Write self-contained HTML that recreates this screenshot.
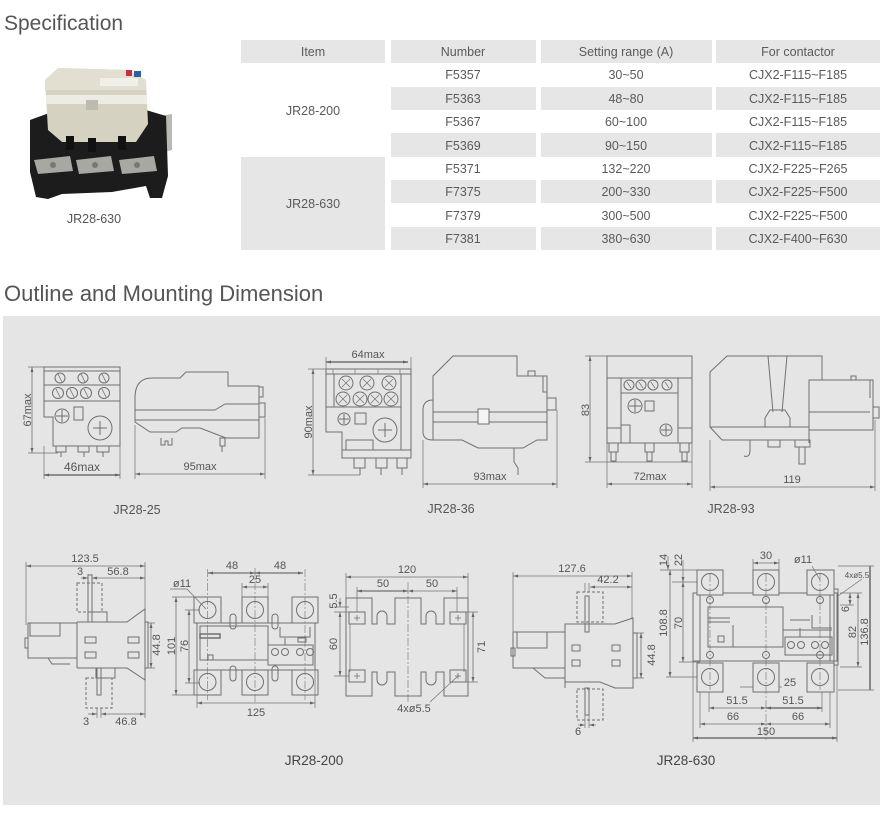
<!DOCTYPE html>
<html><head><meta charset="utf-8">
<style>
html,body{margin:0;padding:0;background:#fff;}
body{width:880px;height:838px;overflow:hidden;position:relative;}
svg{position:absolute;left:0;top:0;}
</style></head>
<body>
<svg width="880" height="838" viewBox="0 0 880 838" xmlns="http://www.w3.org/2000/svg">
<defs>
<marker id="ar" viewBox="0 0 10 10" refX="10" refY="5" markerUnits="userSpaceOnUse" markerWidth="5" markerHeight="5" orient="auto-start-reverse"><path d="M0,2 L10,5 L0,8 z" fill="#666"/></marker>
</defs>

<!-- Titles -->
<text x="4" y="30" font-family="Liberation Sans, sans-serif" font-size="21" fill="#555">Specification</text>
<text x="4" y="301" font-family="Liberation Sans, sans-serif" font-size="22" fill="#555">Outline and Mounting Dimension</text>

<!-- Photo -->
<g>
 <polygon points="146,118 172,114 172,150 148,156" fill="#b9b9b2"/>
 <path d="M30,120 L52,112 L62,126 L138,126 L146,110 L166,116 L168,176 L162,198 L150,198 L146,186 L112,192 L62,194 L48,199 L36,197 L30,172 Z" fill="#1c1c1c"/>
 <path d="M45,80 L58,68 L128,70 L146,80 L148,124 L136,142 L62,142 L48,130 Z" fill="#d6d2c2"/>
 <path d="M45,80 L58,68 L128,70 L146,80 L146,90 L45,90 Z" fill="#e2dfd2"/>
 <rect x="46" y="95" width="101" height="9" fill="#ecebe4"/>
 <rect x="100" y="78" width="38" height="8" fill="#f0efe8"/>
 <rect x="126" y="70" width="6" height="6" fill="#c83040"/>
 <rect x="134" y="71" width="7" height="6" fill="#2f5fa0"/>
 <rect x="86" y="100" width="12" height="10" fill="#bdbab0"/>
 <polygon points="34,160 70,156 73,171 38,174" fill="#a8a8a2"/>
 <polygon points="76,160 111,156 114,171 79,174" fill="#a8a8a2"/>
 <polygon points="119,160 154,156 157,171 122,174" fill="#a8a8a2"/>
 <circle cx="53" cy="165" r="3" fill="#777"/><circle cx="95" cy="165" r="3" fill="#777"/><circle cx="137" cy="165" r="3" fill="#777"/>
 <rect x="66" y="136" width="8" height="14" fill="#111"/><rect x="88" y="138" width="8" height="14" fill="#111"/><rect x="118" y="136" width="8" height="14" fill="#111"/>
</g>
<text x="94" y="223" text-anchor="middle" font-family="Liberation Sans, sans-serif" font-size="12.5" fill="#555">JR28-630</text>

<!-- Table -->
<g fill="#e6e6e6">
 <rect x="241" y="40" width="144" height="23"/>
 <rect x="391" y="40" width="145" height="23"/>
 <rect x="541" y="40" width="171" height="23"/>
 <rect x="716" y="40" width="164" height="23"/>
 <rect x="241" y="157" width="144" height="93"/>
 <rect x="391" y="87" width="145" height="23"/><rect x="541" y="87" width="171" height="23"/><rect x="716" y="87" width="164" height="23"/>
 <rect x="391" y="133" width="145" height="24"/><rect x="541" y="133" width="171" height="24"/><rect x="716" y="133" width="164" height="24"/>
 <rect x="391" y="180" width="145" height="23"/><rect x="541" y="180" width="171" height="23"/><rect x="716" y="180" width="164" height="23"/>
 <rect x="391" y="227" width="145" height="23"/><rect x="541" y="227" width="171" height="23"/><rect x="716" y="227" width="164" height="23"/>
</g>
<g font-family="Liberation Sans, sans-serif" font-size="12.5" fill="#5a5a5a" text-anchor="middle">
 <text x="313" y="56">Item</text><text x="463" y="56">Number</text><text x="626" y="56">Setting range (A)</text><text x="798" y="56">For contactor</text>
 <text x="313" y="115">JR28-200</text><text x="313" y="208">JR28-630</text>
 <text x="463" y="79">F5357</text><text x="626" y="79">30~50</text><text x="798" y="79">CJX2-F115~F185</text>
 <text x="463" y="103">F5363</text><text x="626" y="103">48~80</text><text x="798" y="103">CJX2-F115~F185</text>
 <text x="463" y="126">F5367</text><text x="626" y="126">60~100</text><text x="798" y="126">CJX2-F115~F185</text>
 <text x="463" y="150">F5369</text><text x="626" y="150">90~150</text><text x="798" y="150">CJX2-F115~F185</text>
 <text x="463" y="173">F5371</text><text x="626" y="173">132~220</text><text x="798" y="173">CJX2-F225~F265</text>
 <text x="463" y="196">F7375</text><text x="626" y="196">200~330</text><text x="798" y="196">CJX2-F225~F500</text>
 <text x="463" y="220">F7379</text><text x="626" y="220">300~500</text><text x="798" y="220">CJX2-F225~F500</text>
 <text x="463" y="243">F7381</text><text x="626" y="243">380~630</text><text x="798" y="243">CJX2-F400~F630</text>
</g>

<!-- Gray drawing area -->
<rect x="3" y="316" width="877" height="489" fill="#e5e5e5"/>

<g stroke="#707070" stroke-width="1" fill="none">
<!-- ===== JR28-25 front ===== -->
<path d="M44,367 H120 V446 H53 V417 H44 Z"/>
<line x1="44" y1="371" x2="120" y2="371"/>
<line x1="44" y1="385" x2="120" y2="385"/>
<line x1="44" y1="401" x2="120" y2="401"/>
<circle cx="60" cy="378" r="5"/><circle cx="83" cy="378" r="5"/><circle cx="104" cy="378" r="5"/>
<circle cx="58" cy="393" r="5.5"/><circle cx="72" cy="393" r="5.5"/><circle cx="86" cy="393" r="5.5"/><circle cx="104" cy="393" r="5.5"/>
<path d="M58,374 L62,382 M81,374 L85,382 M102,374 L106,382 M56,389 L60,397 M70,389 L74,397 M84,389 L88,397 M102,389 L106,397" stroke-width="0.8"/>
<circle cx="62" cy="416" r="7"/><path d="M56,416 H68 M62,410 V422"/>
<rect x="74" y="407" width="9" height="13"/>
<circle cx="100" cy="428" r="12"/><path d="M93,428 H107 M100,421 V435"/>
<rect x="56" y="446" width="10" height="6"/><rect x="78" y="446" width="11" height="6"/><rect x="97" y="446" width="12" height="6"/>
<path d="M61,452 V457 M84,452 V457 M103,452 V457"/>
<!-- dims -->
<path d="M28,367 H44 M28,453 H58 M44,446 V479 M120,446 V479" stroke-width="0.7"/>
<line x1="32" y1="367" x2="32" y2="453" stroke-width="0.8" marker-start="url(#ar)" marker-end="url(#ar)"/>
<line x1="44" y1="475" x2="120" y2="475" stroke-width="1.4" marker-start="url(#ar)" marker-end="url(#ar)"/>

<!-- ===== JR28-25 side ===== -->
<path d="M135,398 Q135,378 152,378 H180 L186,372 H228 V386 H259 V438 H226 L200,428 H182 L176,432 H150 L135,422 Z"/>
<path d="M135,410 H215 L225,404 H259 M135,420 H259"/>
<rect x="259" y="403" width="6" height="14"/><rect x="259" y="387" width="4" height="10"/>
<path d="M161,438 V445 H165 V441 H168 V445 H172 V438"/>
<rect x="220" y="438" width="5" height="8"/><path d="M222,446 V452"/>
<path d="M135,425 V479 M265,418 V479" stroke-width="0.7"/>
<line x1="135" y1="474" x2="265" y2="474" stroke-width="0.8" marker-start="url(#ar)" marker-end="url(#ar)"/>

<!-- ===== JR28-36 front ===== -->
<path d="M326,369 H411 V458 H342 V432 H326 Z"/>
<line x1="326" y1="374" x2="411" y2="374"/>
<path d="M333,369 V374 M355,369 V374 M378,369 V374 M400,369 V374" stroke-width="0.7"/>
<path d="M334,374 V407 M401,374 V450 M326,407 H401"/>
<circle cx="346" cy="383" r="7"/><circle cx="367" cy="383" r="7"/><circle cx="389" cy="383" r="7"/>
<circle cx="343" cy="399" r="7"/><circle cx="360" cy="399" r="7"/><circle cx="375" cy="399" r="7"/><circle cx="391" cy="399" r="7"/>
<path d="M342,379 L350,387 M350,379 L342,387 M363,379 L371,387 M371,379 L363,387 M385,379 L393,387 M393,379 L385,387 M339,395 L347,403 M347,395 L339,403 M356,395 L364,403 M364,395 L356,403 M371,395 L379,403 M379,395 L371,403 M387,395 L395,403 M395,395 L387,403" stroke-width="0.7"/>
<circle cx="344" cy="419" r="6"/><path d="M339,419 H349 M344,414 V424"/>
<rect x="355" y="413" width="11" height="11"/>
<circle cx="385" cy="430" r="12"/><path d="M378,430 H392 M385,423 V437"/>
<rect x="346" y="440" width="27" height="10"/>
<line x1="342" y1="450" x2="411" y2="450"/>
<rect x="354" y="458" width="11" height="10"/><rect x="376" y="458" width="11" height="10"/><rect x="397" y="458" width="10" height="10"/>
<path d="M360,468 V475 M381,468 V475 M402,468 V475"/>
<path d="M326,357 V369 M411,357 V369 M308,369 H326 M308,475 H360" stroke-width="0.7"/>
<line x1="326" y1="362" x2="408" y2="362" stroke-width="1.4" marker-start="url(#ar)" marker-end="url(#ar)"/>
<line x1="313" y1="369" x2="313" y2="475" stroke-width="0.8" marker-start="url(#ar)" marker-end="url(#ar)"/>

<!-- ===== JR28-36 side ===== -->
<path d="M433,376 L453,356 H517 V376 H547 V440 H537 L523,448 H478 L462,440 H433 Q423,440 423,432 V410 Q423,400 433,400 Z"/>
<path d="M433,412 H547 M433,422 H547 M433,400 V440"/>
<rect x="478" y="409" width="11" height="15" fill="#f4f4f4"/>
<rect x="528" y="371" width="7" height="5"/>
<rect x="547" y="398" width="9" height="12"/>
<path d="M543,376 V392 H547"/>
<path d="M514,448 V462 L518,468 V475"/>
<path d="M423,440 V488 M557,410 V488" stroke-width="0.7"/>
<line x1="423" y1="484" x2="557" y2="484" stroke-width="0.8" marker-start="url(#ar)" marker-end="url(#ar)"/>

<!-- ===== JR28-93 front ===== -->
<rect x="607" y="356" width="85" height="87"/>
<line x1="607" y1="378" x2="692" y2="378"/>
<path d="M621,378 V443 M678,378 V443 M607,428 H621 M678,428 H692 M621,393 H678"/>
<rect x="621" y="425" width="9" height="18"/>
<circle cx="629" cy="385" r="5"/><circle cx="641" cy="385" r="5"/><circle cx="653" cy="385" r="5"/><circle cx="667" cy="385" r="5"/>
<path d="M627,382 L631,388 M639,382 L643,388 M651,382 L655,388 M665,382 L669,388" stroke-width="0.7"/>
<circle cx="635" cy="406" r="7"/><path d="M629,406 H641 M635,400 V412"/>
<rect x="645" y="401" width="9" height="10"/>
<circle cx="666" cy="430" r="6"/><path d="M661,430 H671 M666,425 V435"/>
<rect x="609" y="443" width="9" height="9"/><rect x="611" y="452" width="5" height="9"/>
<rect x="645" y="443" width="9" height="9"/><rect x="647" y="452" width="5" height="9"/>
<rect x="680" y="443" width="9" height="9"/><rect x="682" y="452" width="5" height="9"/>
<path d="M585,356 H607 M585,462 H692 M607,443 V488 M692,443 V488" stroke-width="0.7"/>
<line x1="590" y1="356" x2="590" y2="462" stroke-width="0.8" marker-start="url(#ar)" marker-end="url(#ar)"/>
<line x1="607" y1="484" x2="692" y2="484" stroke-width="0.8" marker-start="url(#ar)" marker-end="url(#ar)"/>

<!-- ===== JR28-93 side ===== -->
<path d="M710,372 L727,356 H822 V380 M710,372 V427 L722,440 H809"/>
<line x1="710" y1="427" x2="809" y2="427"/>
<rect x="809" y="380" width="64" height="50"/>
<path d="M809,412 H870 M809,430 V443 M870,380 V398"/>
<path d="M768,356 L773,412 M787,356 L782,412 M765,427 V418 L770,410 H785 L790,418 V427"/>
<path d="M750,440 V450 Q750,458 744,456"/>
<rect x="768" y="440" width="12" height="7"/>
<rect x="795" y="440" width="15" height="7"/><rect x="799" y="447" width="6" height="17"/>
<rect x="851" y="376" width="5" height="4"/>
<rect x="873" y="407" width="6" height="11"/>
<path d="M710,440 V491 M875,420 V491" stroke-width="0.7"/>
<line x1="710" y1="487" x2="875" y2="487" stroke-width="0.8" marker-start="url(#ar)" marker-end="url(#ar)"/>

<!-- ===== JR28-200 side ===== -->
<path d="M26,562 V625 M145,562 V609 M88,574 V583 M92,574 V583" stroke-width="0.7"/>
<line x1="26" y1="566" x2="145" y2="566" stroke-width="0.8" marker-start="url(#ar)" marker-end="url(#ar)"/>
<line x1="81" y1="578" x2="88" y2="578" stroke-width="0.8" marker-end="url(#ar)"/>
<line x1="92" y1="578" x2="145" y2="578" stroke-width="0.8" marker-start="url(#ar)" marker-end="url(#ar)"/>
<rect x="77" y="583" width="25" height="29" stroke-dasharray="3,2"/>
<rect x="88" y="575" width="4" height="47"/>
<rect x="88" y="612" width="19" height="10"/>
<path d="M28,623 H77 V658 H28 Z"/>
<path d="M30,623 V636 H60 V623"/>
<rect x="25" y="638" width="3" height="10"/>
<path d="M77,622 H127 L145,609 V680 L127,668 H77 M77,622 V668 M77,658 L48,658 L52,664 H70"/>
<path d="M145,622 H148 V668 H145"/>
<rect x="85" y="637" width="11" height="6"/><rect x="128" y="637" width="11" height="6"/>
<rect x="85" y="652" width="11" height="6"/><rect x="128" y="652" width="11" height="6"/>
<rect x="96" y="668" width="19" height="10"/>
<rect x="86" y="678" width="26" height="30" stroke-dasharray="3,2"/>
<rect x="97" y="668" width="4" height="27"/>
<path d="M148,623 H155 M148,668 H155 M145,680 V718 M97,708 V718 M101,708 V718" stroke-width="0.7"/>
<line x1="151" y1="623" x2="151" y2="668" stroke-width="0.8" marker-start="url(#ar)" marker-end="url(#ar)"/>
<line x1="88" y1="714" x2="97" y2="714" stroke-width="0.8" marker-end="url(#ar)"/>
<line x1="101" y1="714" x2="145" y2="714" stroke-width="0.8" marker-start="url(#ar)" marker-end="url(#ar)"/>

<!-- ===== JR28-200 front ===== -->
<rect x="197" y="623" width="118" height="47"/>
<rect x="200" y="626" width="68" height="34"/>
<rect x="200" y="634" width="20" height="4" stroke-width="1.5"/>
<rect x="208" y="655" width="5" height="5"/>
<rect x="268" y="645" width="45" height="20"/>
<circle cx="275" cy="652" r="3.5"/><circle cx="285" cy="652" r="3.5"/><circle cx="300" cy="652" r="3.5"/><circle cx="310" cy="652" r="3.5"/>
<path d="M280,627 V637 H310 V627 M285,645 V638 M298,638 H306 V642 H298 Z"/>
<rect x="194" y="597" width="27" height="26" fill="#e5e5e5"/><rect x="242" y="597" width="26" height="26" fill="#e5e5e5"/><rect x="292" y="597" width="26" height="26" fill="#e5e5e5"/>
<rect x="194" y="670" width="27" height="25" fill="#e5e5e5"/><rect x="242" y="670" width="26" height="25" fill="#e5e5e5"/><rect x="292" y="670" width="26" height="25" fill="#e5e5e5"/>
<circle cx="207.5" cy="610" r="8.5"/><circle cx="255" cy="610" r="8.5"/><circle cx="305" cy="610" r="8.5"/>
<circle cx="207.5" cy="682" r="8.5"/><circle cx="255" cy="682" r="8.5"/><circle cx="305" cy="682" r="8.5"/>
<rect x="230" y="614" width="6" height="15" rx="3"/><rect x="272" y="614" width="6" height="15" rx="3"/>
<rect x="230" y="666" width="6" height="15" rx="3"/><rect x="272" y="666" width="6" height="15" rx="3"/>
<path d="M255,568 V702 M207.5,569 V700 M305,569 V700" stroke-width="0.6" stroke-dasharray="8,2,2,2"/>
<path d="M242,583 V597 M268,583 V597 M172,597 H194 M172,695 H194 M185,610 H200 M185,683 H200 M197,670 V708 M315,670 V708" stroke-width="0.7"/>
<line x1="208" y1="573" x2="255" y2="573" stroke-width="1.2" marker-start="url(#ar)" marker-end="url(#ar)"/>
<line x1="255" y1="573" x2="303" y2="573" stroke-width="1.2" marker-start="url(#ar)" marker-end="url(#ar)"/>
<line x1="242" y1="587" x2="268" y2="587" stroke-width="0.8" marker-start="url(#ar)" marker-end="url(#ar)"/>
<line x1="176" y1="597" x2="176" y2="695" stroke-width="0.8" marker-start="url(#ar)" marker-end="url(#ar)"/>
<line x1="189" y1="610" x2="189" y2="683" stroke-width="0.8" marker-start="url(#ar)" marker-end="url(#ar)"/>
<line x1="197" y1="703" x2="315" y2="703" stroke-width="0.8" marker-start="url(#ar)" marker-end="url(#ar)"/>
<path d="M170,589 H187 L206,609" stroke-width="0.7"/>

<!-- ===== Mounting plate ===== -->
<path d="M346,598 H372 V624 H377 V616 A5,5 0 0 1 387,616 V624 H395 V598 H421 V624 H426 V616 A5,5 0 0 1 436,616 V624 H444 V598 H468 V696 H444 V672 H436 V680 A5,5 0 0 1 426,680 V672 H421 V696 H395 V672 H387 V680 A5,5 0 0 1 377,680 V672 H372 V696 H346 Z"/>
<path d="M350,624 V672 M464,624 V672" stroke-width="0.7"/>
<rect x="349" y="612" width="16" height="12"/><rect x="450" y="612" width="16" height="12"/>
<rect x="349" y="670" width="16" height="12"/><rect x="450" y="670" width="16" height="12"/>
<path d="M354,618 H360 M357,615 V621 M455,618 H461 M458,615 V621 M354,676 H360 M357,673 V679 M455,676 H461 M458,673 V679" stroke-width="0.8"/>
<path d="M408,582 V702" stroke-width="0.6" stroke-dasharray="8,2,2,2"/>
<path d="M346,573 V598 M468,573 V598 M357,587 V612 M457,587 V612 M334,607 H349 M334,612 H349 M334,676 H349 M466,612 H478 M466,682 H478" stroke-width="0.7"/>
<line x1="346" y1="577" x2="468" y2="577" stroke-width="0.8" marker-start="url(#ar)" marker-end="url(#ar)"/>
<line x1="357" y1="591" x2="408" y2="591" stroke-width="1.2" marker-start="url(#ar)" marker-end="url(#ar)"/>
<line x1="408" y1="591" x2="457" y2="591" stroke-width="0.8" marker-start="url(#ar)" marker-end="url(#ar)"/>
<line x1="340" y1="598" x2="340" y2="607" stroke-width="0.7" marker-end="url(#ar)"/>
<line x1="340" y1="612" x2="340" y2="676" stroke-width="0.8" marker-start="url(#ar)" marker-end="url(#ar)"/>
<line x1="473" y1="612" x2="473" y2="682" stroke-width="0.8" marker-start="url(#ar)" marker-end="url(#ar)"/>
<path d="M430,702 L458,676" stroke-width="0.7"/>

<!-- ===== JR28-630 side ===== -->
<path d="M513,572 V640 M632,572 V618 M585,583 V592 M589,583 V592" stroke-width="0.7"/>
<line x1="513" y1="576" x2="632" y2="576" stroke-width="0.8" marker-start="url(#ar)" marker-end="url(#ar)"/>
<line x1="590" y1="587" x2="632" y2="587" stroke-width="0.8" marker-start="url(#ar)" marker-end="url(#ar)"/>
<rect x="577" y="592" width="26" height="30" stroke-dasharray="3,2"/>
<rect x="585" y="596" width="4" height="36"/>
<path d="M513,632 H565 V668 H533 L545,678 H565 M513,632 V668 H533"/>
<path d="M517,632 V648 H547 V632"/>
<rect x="511" y="648" width="4" height="8"/>
<path d="M565,624 H615 L633,618 V688 L615,688 L600,682 H565 Z M565,624 V688"/>
<path d="M633,633 H637 V678 H633"/>
<rect x="572" y="645" width="8" height="6"/><rect x="612" y="645" width="8" height="6"/>
<rect x="572" y="660" width="8" height="6"/><rect x="612" y="660" width="8" height="6"/>
<rect x="577" y="689" width="26" height="31" stroke-dasharray="3,2"/>
<rect x="585" y="688" width="4" height="27"/>
<path d="M585,715 V728 M589,715 V728 M637,633 H644 M637,678 H644" stroke-width="0.7"/>
<line x1="578" y1="725" x2="585" y2="725" stroke-width="0.7" marker-end="url(#ar)"/>
<line x1="596" y1="725" x2="589" y2="725" stroke-width="0.7" marker-end="url(#ar)"/>
<line x1="641" y1="633" x2="641" y2="678" stroke-width="0.8" marker-start="url(#ar)" marker-end="url(#ar)"/>

<!-- ===== JR28-630 front ===== -->
<rect x="693" y="593" width="144" height="68"/>
<path d="M700,593 V661 M830,593 V661"/>
<rect x="708" y="607" width="75" height="40"/>
<path d="M708,618 H730 M708,622 H730" stroke-width="1"/>
<rect x="718" y="636" width="6" height="6"/>
<path d="M733,625 V647 M783,630 H832 M785,637 H832 V655 H785 Z M790,620 H810 M812,615 V628 H832 M800,628 V637"/>
<circle cx="791" cy="645" r="3.5"/><circle cx="801" cy="645" r="3.5"/><circle cx="815" cy="645" r="3.5"/><circle cx="825" cy="645" r="3.5"/>
<rect x="834" y="589" width="4" height="76"/>
<circle cx="710" cy="600" r="3.5"/><circle cx="766" cy="600" r="3.5"/><circle cx="820" cy="600" r="3.5"/>
<circle cx="710" cy="655" r="3.5"/><circle cx="766" cy="655" r="3.5"/><circle cx="820" cy="655" r="3.5"/>
<rect x="697" y="570" width="26" height="25" fill="#e5e5e5"/><rect x="753" y="570" width="26" height="25" fill="#e5e5e5"/><rect x="807" y="570" width="27" height="25" fill="#e5e5e5"/>
<rect x="697" y="663" width="26" height="29" fill="#e5e5e5"/><rect x="753" y="663" width="26" height="29" fill="#e5e5e5"/><rect x="807" y="663" width="27" height="29" fill="#e5e5e5"/>
<circle cx="710" cy="582" r="8.5"/><circle cx="766" cy="582" r="8.5"/><circle cx="820" cy="582" r="8.5"/>
<circle cx="710" cy="677" r="8.5"/><circle cx="766" cy="677" r="8.5"/><circle cx="820" cy="677" r="8.5"/>
<path d="M766,574 V742 M710,574 V690 M820,574 V690" stroke-width="0.6" stroke-dasharray="8,2,2,2"/>
<path d="M660,570 H697 M672,582 H697 M666,677 H697 M679,662 H700 M753,559 V570 M779,559 V570 M840,593 H862 M840,605 H854 M840,667 H862 M838,690 H874 M838,566 H874 M709,692 V712 M822,692 V712 M700,692 V728 M830,692 V728 M693,661 V742 M837,665 V742 M740,687 H753 M779,687 H782" stroke-width="0.7"/>
<line x1="670" y1="570" x2="670" y2="677" stroke-width="0.8" marker-start="url(#ar)" marker-end="url(#ar)"/>
<line x1="683" y1="582" x2="683" y2="662" stroke-width="0.8" marker-start="url(#ar)" marker-end="url(#ar)"/>
<line x1="668" y1="556" x2="668" y2="570" stroke-width="0.7" marker-end="url(#ar)"/>
<line x1="683" y1="560" x2="683" y2="582" stroke-width="0.7" marker-end="url(#ar)"/>
<line x1="753" y1="563" x2="779" y2="563" stroke-width="0.8" marker-start="url(#ar)" marker-end="url(#ar)"/>
<line x1="850" y1="593" x2="850" y2="605" stroke-width="0.7" marker-start="url(#ar)" marker-end="url(#ar)"/>
<line x1="858" y1="593" x2="858" y2="667" stroke-width="0.8" marker-start="url(#ar)" marker-end="url(#ar)"/>
<line x1="870" y1="566" x2="870" y2="690" stroke-width="1.6"/>
<line x1="709" y1="708" x2="766" y2="708" stroke-width="0.8" marker-start="url(#ar)" marker-end="url(#ar)"/>
<line x1="766" y1="708" x2="822" y2="708" stroke-width="1.4" marker-start="url(#ar)" marker-end="url(#ar)"/>
<line x1="700" y1="724" x2="766" y2="724" stroke-width="0.8" marker-start="url(#ar)" marker-end="url(#ar)"/>
<line x1="766" y1="724" x2="830" y2="724" stroke-width="0.8" marker-start="url(#ar)" marker-end="url(#ar)"/>
<line x1="693" y1="738" x2="837" y2="738" stroke-width="1.4" marker-start="url(#ar)" marker-end="url(#ar)"/>
<path d="M812,566 L820,580 M862,579 L838,596" stroke-width="0.7"/>
</g>

<!-- Drawing labels -->
<g font-family="Liberation Sans, sans-serif" font-size="11" fill="#555" text-anchor="middle">
 <text x="82" y="471" font-size="12">46max</text>
 <text x="200" y="470">95max</text>
 <text transform="translate(31,410) rotate(-90)">67max</text>
 <text x="368" y="358">64max</text>
 <text transform="translate(312,422) rotate(-90)">90max</text>
 <text x="490" y="480">93max</text>
 <text transform="translate(589,410) rotate(-90)">83</text>
 <text x="650" y="480">72max</text>
 <text x="792" y="483">119</text>

 <text x="85" y="562">123.5</text>
 <text x="80" y="575">3</text>
 <text x="118" y="575">56.8</text>
 <text transform="translate(160,645) rotate(-90)">44.8</text>
 <text x="86" y="725">3</text>
 <text x="126" y="725">46.8</text>
 <text x="232" y="569">48</text>
 <text x="280" y="569">48</text>
 <text x="255" y="583">25</text>
 <text x="182" y="587">ø11</text>
 <text transform="translate(175,646) rotate(-90)">101</text>
 <text transform="translate(188,646) rotate(-90)">76</text>
 <text x="256" y="716">125</text>

 <text x="407" y="573">120</text>
 <text x="383" y="587">50</text>
 <text x="432" y="587">50</text>
 <text transform="translate(337,601) rotate(-90)">5.5</text>
 <text transform="translate(337,644) rotate(-90)">60</text>
 <text transform="translate(485,647) rotate(-90)">71</text>
 <text x="414" y="712">4xø5.5</text>

 <text x="572" y="572">127.6</text>
 <text x="608" y="583">42.2</text>
 <text transform="translate(655,655) rotate(-90)">44.8</text>
 <text x="578" y="735">6</text>

 <text transform="translate(667,560) rotate(-90)">14</text>
 <text transform="translate(682,560) rotate(-90)">22</text>
 <text x="766" y="559">30</text>
 <text x="803" y="563">ø11</text>
 <text x="857" y="578" font-size="8">4xø5.5</text>
 <text transform="translate(667,623) rotate(-90)">108.8</text>
 <text transform="translate(682,623) rotate(-90)">70</text>
 <text transform="translate(849,609) rotate(-90)">6</text>
 <text transform="translate(856,632) rotate(-90)">82</text>
 <text transform="translate(868,632) rotate(-90)">136.8</text>
 <text x="790" y="686">25</text>
 <text x="737" y="704">51.5</text>
 <text x="793" y="704">51.5</text>
 <text x="733" y="720">66</text>
 <text x="798" y="720">66</text>
 <text x="766" y="735">150</text>
</g>

<!-- Captions -->
<g font-family="Liberation Sans, sans-serif" font-size="12.5" fill="#555" text-anchor="middle">
 <text x="137" y="514">JR28-25</text>
 <text x="451" y="513">JR28-36</text>
 <text x="731" y="513">JR28-93</text>
</g>
<g font-family="Liberation Sans, sans-serif" font-size="13.5" fill="#444" text-anchor="middle">
 <text x="314" y="765">JR28-200</text>
 <text x="686" y="765">JR28-630</text>
</g>
</svg>
</body></html>
